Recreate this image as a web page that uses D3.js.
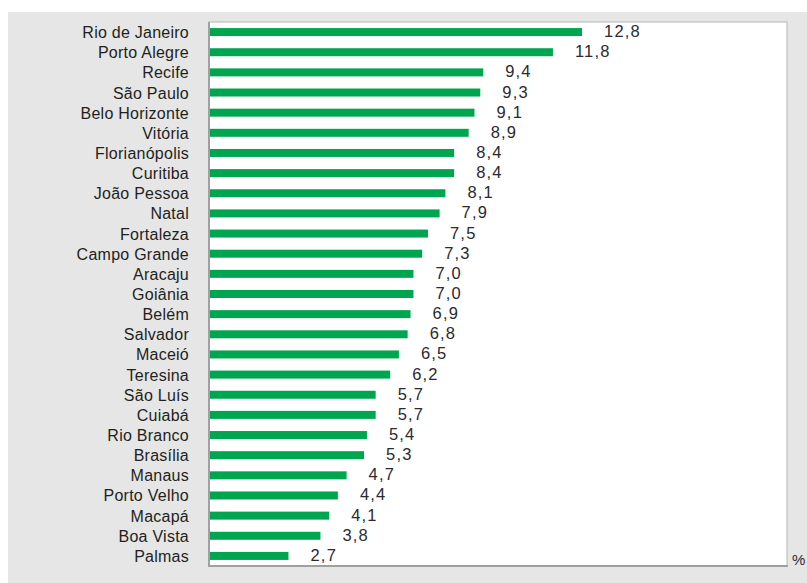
<!DOCTYPE html>
<html><head><meta charset="utf-8">
<script src="https://cdn.jsdelivr.net/npm/d3@7"></script>
<style>body{margin:0;background:#fff}svg{display:block}</style>
</head><body>
<script>
const categories = ["Rio de Janeiro","Porto Alegre","Recife","São Paulo","Belo Horizonte","Vitória","Florianópolis","Curitiba","João Pessoa","Natal","Fortaleza","Campo Grande","Aracaju","Goiânia","Belém","Salvador","Maceió","Teresina","São Luís","Cuiabá","Rio Branco","Brasília","Manaus","Porto Velho","Macapá","Boa Vista","Palmas"];
const values = [12.8,11.8,9.4,9.3,9.1,8.9,8.4,8.4,8.1,7.9,7.5,7.3,7.0,7.0,6.9,6.8,6.5,6.2,5.7,5.7,5.4,5.3,4.7,4.4,4.1,3.8,2.7];
const unitLabel = "%";

const W = 807, H = 583;
const FONT = "Liberation Sans, Arial, sans-serif";
const svg = d3.select("body").append("svg").attr("width", W).attr("height", H);
svg.append("rect").attr("x", 8).attr("y", 12).attr("width", W - 8).attr("height", H - 12).attr("fill", "#e6e6e6");

const plot = {x0: 209, x1: 787, y0: 22, y1: 566};
svg.append("rect").attr("x", plot.x0).attr("y", plot.y0).attr("width", plot.x1 - plot.x0).attr("height", plot.y1 - plot.y0)
  .attr("fill", "#fff").attr("stroke", "#b4b4b4").attr("stroke-width", 1);
svg.append("line").attr("x1", plot.x0).attr("x2", plot.x0).attr("y1", plot.y0).attr("y2", plot.y1 + 1)
  .attr("stroke", "#a0a0a0").attr("stroke-width", 2);
svg.append("line").attr("x1", plot.x0).attr("x2", plot.x1 + 1).attr("y1", plot.y1).attr("y2", plot.y1)
  .attr("stroke", "#a0a0a0").attr("stroke-width", 2);

const x = d3.scaleLinear().domain([0, 12.8]).range([210, 582]);
const y = d3.scaleBand().domain(categories).range([plot.y0, plot.y1]).paddingInner(0.603).paddingOuter(0.3015);

const data = categories.map((c, i) => ({c, v: values[i]}));
const fmt = v => d3.format(".1f")(v).replace(".", ",");

svg.selectAll("rect.bar").data(data).join("rect").attr("class", "bar")
  .attr("x", x(0)).attr("y", d => y(d.c)).attr("width", d => x(d.v) - x(0)).attr("height", y.bandwidth())
  .attr("fill", "#00a550");

svg.selectAll("text.cat").data(data).join("text").attr("class", "cat")
  .attr("x", 189).attr("y", d => y(d.c) + y.bandwidth() / 2 + 6)
  .attr("text-anchor", "end").attr("font-family", FONT)
  .attr("font-size", 16).attr("letter-spacing", 0.25).attr("fill", "#231f20").text(d => d.c);

svg.selectAll("text.val").data(data).join("text").attr("class", "val")
  .attr("x", d => x(d.v) + 22).attr("y", d => y(d.c) + y.bandwidth() + 1)
  .attr("font-family", FONT)
  .attr("font-size", 16.5).attr("letter-spacing", 1.2).attr("fill", "#2a2a30").text(d => fmt(d.v));

svg.append("text").attr("x", 792).attr("y", 565).attr("font-family", FONT)
  .attr("font-size", 15).attr("fill", "#2a2a30").text(unitLabel);
</script>
</body></html>
